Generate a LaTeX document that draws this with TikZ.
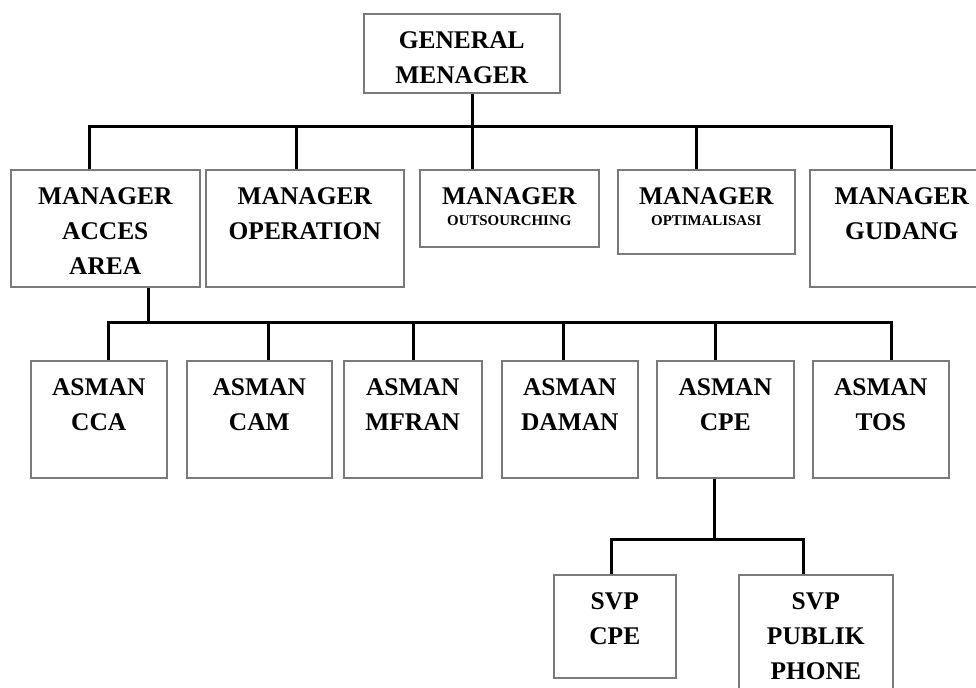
\documentclass[tikz,border=0pt]{standalone}
\usepackage{fontspec}
\setmainfont{Liberation Serif}
\usetikzlibrary{calc}
\newcommand{\pxl}{0.025cm}
\definecolor{boxgray}{HTML}{7A7A7A}
\tikzset{orgbox/.style 2 args={draw=boxgray, line width=1.1pt, anchor=north west, inner sep=0pt, align=center, text width=#1*\pxl, text height=35*\pxl, text depth=#2*\pxl-35*\pxl, font=\fontsize{18.1}{24.7}\selectfont\bfseries}}
\tikzset{conn/.style={draw=black, line width=1.9pt}}
\newcommand{\smallline}[1]{\\[-9.7pt]{\fontsize{10.6}{12}\selectfont #1}}

\begin{document}
\begin{tikzpicture}[x=\pxl, y=-\pxl]
    \clip (0,0) rectangle (976,688);

    \node (gm) [orgbox={196}{79}] at (363,13) {GENERAL\\MENAGER};

    \node (acces) [orgbox={189}{117}] at (10,169) {MANAGER\\ACCES\\AREA};
    \node (operation) [orgbox={198}{117}] at (205,169) {MANAGER\\OPERATION};
    \node (outsourcing) [orgbox={179}{77}] at (419,169) {MANAGER\smallline{OUTSOURCHING}};
    \node (optimalisasi) [orgbox={177}{84}] at (617,169) {MANAGER\smallline{OPTIMALISASI}};
    \node (gudang) [orgbox={184}{117}] at (809,169) {MANAGER\\GUDANG};

    \node (cca) [orgbox={136}{117}] at (30,360) {ASMAN\\CCA};
    \node (cam) [orgbox={145}{117}] at (186,360) {ASMAN\\CAM};
    \node (mfran) [orgbox={138}{117}] at (343,360) {ASMAN\\MFRAN};
    \node (daman) [orgbox={136}{117}] at (501,360) {ASMAN\\DAMAN};
    \node (cpe) [orgbox={137}{117}] at (656,360) {ASMAN\\CPE};
    \node (tos) [orgbox={136}{117}] at (812,360) {ASMAN\\TOS};

    \node (svpcpe) [orgbox={122}{103}] at (553,574) {SVP\\CPE};
    \node (svppublik) [orgbox={154}{130}] at (738,574) {SVP\\PUBLIK\\PHONE};

    % general menager -> managers
    \coordinate (gmbus) at ($(gm.south)+(11,33)$);
    \draw [conn] ($(gm.south)+(11,0)$) -- (gmbus);
    \draw [conn] ($(acces.north)+(-15.5,0)$) |- (gmbus);
    \draw [conn] ($(operation.north)+(-8,0)$) |- (gmbus);
    \draw [conn] ($(outsourcing.north)+(-36.5,0)$) |- (gmbus);
    \draw [conn] ($(optimalisasi.north)+(-9.5,0)$) |- (gmbus);
    \draw [conn] ($(gudang.north)+(-10,0)$) |- (gmbus);

    % manager acces area -> asman
    \coordinate (accesbus) at ($(acces.south)+(43.5,35)$);
    \draw [conn] ($(acces.south)+(43.5,0)$) -- (accesbus);
    \draw [conn] ($(cca.north)+(10,0)$) |- (accesbus);
    \draw [conn] ($(cam.north)+(9.5,0)$) |- (accesbus);
    \draw [conn] ($(mfran.north)+(1,0)$) |- (accesbus);
    \draw [conn] ($(daman.north)+(-6,0)$) |- (accesbus);
    \draw [conn] ($(cpe.north)+(-9.5,0)$) |- (accesbus);
    \draw [conn] ($(tos.north)+(11,0)$) |- (accesbus);

    % asman cpe -> svp
    \coordinate (cpebus) at ($(cpe.south)+(-10.5,61)$);
    \draw [conn] ($(cpe.south)+(-10.5,0)$) -- (cpebus);
    \draw [conn] ($(svpcpe.north)+(-3,0)$) |- (cpebus);
    \draw [conn] ($(svppublik.north)+(-12,0)$) |- (cpebus);

\end{tikzpicture}
\end{document}
